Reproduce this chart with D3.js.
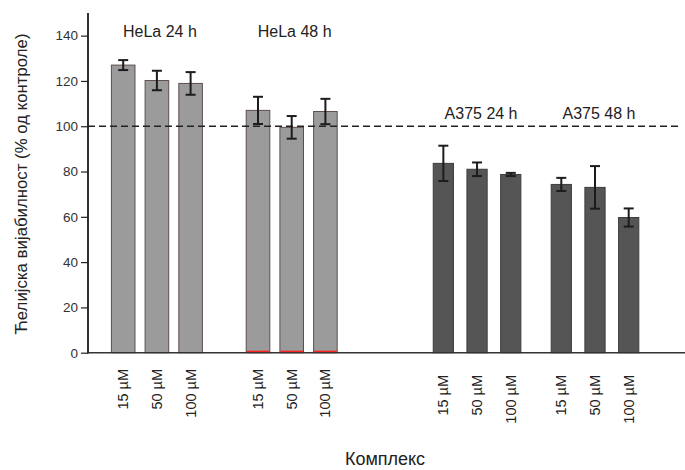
<!DOCTYPE html>
<html>
<head>
<meta charset="utf-8">
<script src="https://cdn.jsdelivr.net/npm/d3@7"></script>
<style>
  html, body { margin: 0; padding: 0; background: #fff; }
  svg { display: block; font-family: "Liberation Sans", Arial, sans-serif; }
</style>
</head>
<body>
<svg id="chart" width="685" height="470"></svg>
<script>
// ---- data ----
const concentrations = ["15 µM", "50 µM", "100 µM"];
const groups = ["HeLa 24 h", "HeLa 48 h", "A375 24 h", "A375 48 h"];
const cellLines = ["HeLa", "HeLa", "A375", "A375"];
const hela24Values = [127.0, 120.2, 118.9];
const hela24Errors = [2.2, 4.3, 5.0];
const hela48Values = [107.0, 99.5, 106.5];
const hela48Errors = [6.0, 5.0, 5.6];
const a375_24Values = [83.6, 81.0, 78.7];
const a375_24Errors = [7.8, 3.0, 0.7];
const a375_48Values = [74.3, 73.0, 59.7];
const a375_48Errors = [2.9, 9.4, 4.0];
const yTicks = [0, 20, 40, 60, 80, 100, 120, 140];
const controlLevel = 100;
const yLabel = "Ћелијска вијабилност (% од контроле)";
const xLabel = "Комплекс";

const groupValues = [hela24Values, hela48Values, a375_24Values, a375_48Values];
const groupErrors = [hela24Errors, hela48Errors, a375_24Errors, a375_48Errors];

// ---- layout ----
const axisX = 88, axisRight = 685;
const y0 = 352.7, yTop = 13;
const svg = d3.select("#chart");

const y = d3.scaleLinear().domain([0, 150]).range([y0, yTop]);

// slot layout: bars with one spacer between them, and spacer slots between groups
const gapBefore = [0, 3, 6, 2];
const slots = [];
const rows = [];
groups.forEach((g, gi) => {
  for (let k = 0; k < gapBefore[gi]; k++) slots.push(`gap-${gi}-${k}`);
  concentrations.forEach((c, ci) => {
    if (ci > 0) slots.push(`sp-${gi}-${ci}`);
    const key = `${g}|${c}`;
    slots.push(key);
    rows.push({ key, group: g, gi, cell: cellLines[gi], conc: c,
                value: groupValues[gi][ci], err: groupErrors[gi][ci] });
  });
});
const step = 16.85;
const c0 = 123.2;
const x = d3.scaleBand().domain(slots)
  .range([c0 - step / 2, c0 - step / 2 + step * slots.length]).padding(0);
const cx = k => x(k) + x.bandwidth() / 2;

const style = {
  HeLa: { fill: "#9a9b9a", stroke: "#5e4f4c", width: step * 1.4, labelTop: 369 },
  A375: { fill: "#555555", stroke: "#3c3c3c", width: step * 1.2, labelTop: 375 }
};

// ---- bars ----
svg.append("g").selectAll("rect").data(rows).join("rect")
  .attr("x", d => cx(d.key) - style[d.cell].width / 2)
  .attr("y", d => y(d.value))
  .attr("width", d => style[d.cell].width)
  .attr("height", d => y(0) - y(d.value))
  .attr("fill", d => style[d.cell].fill)
  .attr("stroke", d => style[d.cell].stroke)
  .attr("stroke-width", 1);

// ---- control dashed line ----
svg.append("line")
  .attr("x1", axisX).attr("x2", 681)
  .attr("y1", y(controlLevel)).attr("y2", y(controlLevel))
  .attr("stroke", "#222").attr("stroke-width", 1.3)
  .attr("stroke-dasharray", "7,4");

// ---- error bars ----
const eb = svg.append("g").attr("stroke", "#1c1c1c").attr("stroke-width", 2);
rows.forEach(d => {
  const xc = cx(d.key);
  eb.append("line").attr("x1", xc).attr("x2", xc)
    .attr("y1", y(d.value + d.err)).attr("y2", y(d.value - d.err));
  [d.value + d.err, d.value - d.err].forEach(v => {
    eb.append("line").attr("x1", xc - 5).attr("x2", xc + 5)
      .attr("y1", y(v)).attr("y2", y(v));
  });
});

// ---- axes ----
const yAxis = d3.axisLeft(y).tickValues(yTicks).tickSize(7).tickPadding(3);
const gy = svg.append("g").attr("transform", `translate(${axisX},0)`).call(yAxis);
gy.select(".domain").remove();
gy.selectAll(".tick line").attr("stroke", "#222").attr("stroke-width", 1.2);
gy.selectAll(".tick text").attr("fill", "#333").attr("font-size", 13.5)
  .attr("font-family", "Liberation Sans, Arial, sans-serif");

svg.append("line").attr("x1", axisX).attr("x2", axisX)
  .attr("y1", yTop).attr("y2", y0 + 0.8)
  .attr("stroke", "#1a1a1a").attr("stroke-width", 1.8);
svg.append("line").attr("x1", axisX).attr("x2", axisRight)
  .attr("y1", y0).attr("y2", y0)
  .attr("stroke", "#333").attr("stroke-width", 1.6);

// red baseline on HeLa 48 h bars
svg.append("g").selectAll("line").data(rows.filter(d => d.gi === 1)).join("line")
  .attr("x1", d => cx(d.key) - style[d.cell].width / 2 + 0.5)
  .attr("x2", d => cx(d.key) + style[d.cell].width / 2 - 0.5)
  .attr("y1", y0 - 1.3).attr("y2", y0 - 1.3)
  .attr("stroke", "#ff2020").attr("stroke-width", 1.4);

// ---- x category labels (rotated) ----
svg.append("g").selectAll("text").data(rows).join("text")
  .attr("transform", d => `translate(${cx(d.key) + 5},${style[d.cell].labelTop}) rotate(-90)`)
  .attr("text-anchor", "end")
  .attr("font-size", 14.5)
  .attr("fill", "#222")
  .text(d => d.conc);

// ---- group labels ----
const groupLabelY = [36.7, 36.7, 118.5, 119];
svg.append("g").selectAll("text").data(groups).join("text")
  .attr("x", (g, gi) => d3.mean(concentrations, c => cx(`${g}|${c}`)) + (gi < 2 ? 3 : 4))
  .attr("y", (g, gi) => groupLabelY[gi])
  .attr("text-anchor", "middle")
  .attr("font-size", 16)
  .attr("fill", "#222")
  .text(g => g);

// ---- axis titles ----
svg.append("text")
  .attr("transform", `translate(27,184) rotate(-90)`)
  .attr("text-anchor", "middle")
  .attr("font-size", 16.8)
  .attr("fill", "#222")
  .text(yLabel);

svg.append("text")
  .attr("x", 385).attr("y", 465)
  .attr("text-anchor", "middle")
  .attr("font-size", 18)
  .attr("fill", "#222")
  .text(xLabel);
</script>
</body>
</html>
